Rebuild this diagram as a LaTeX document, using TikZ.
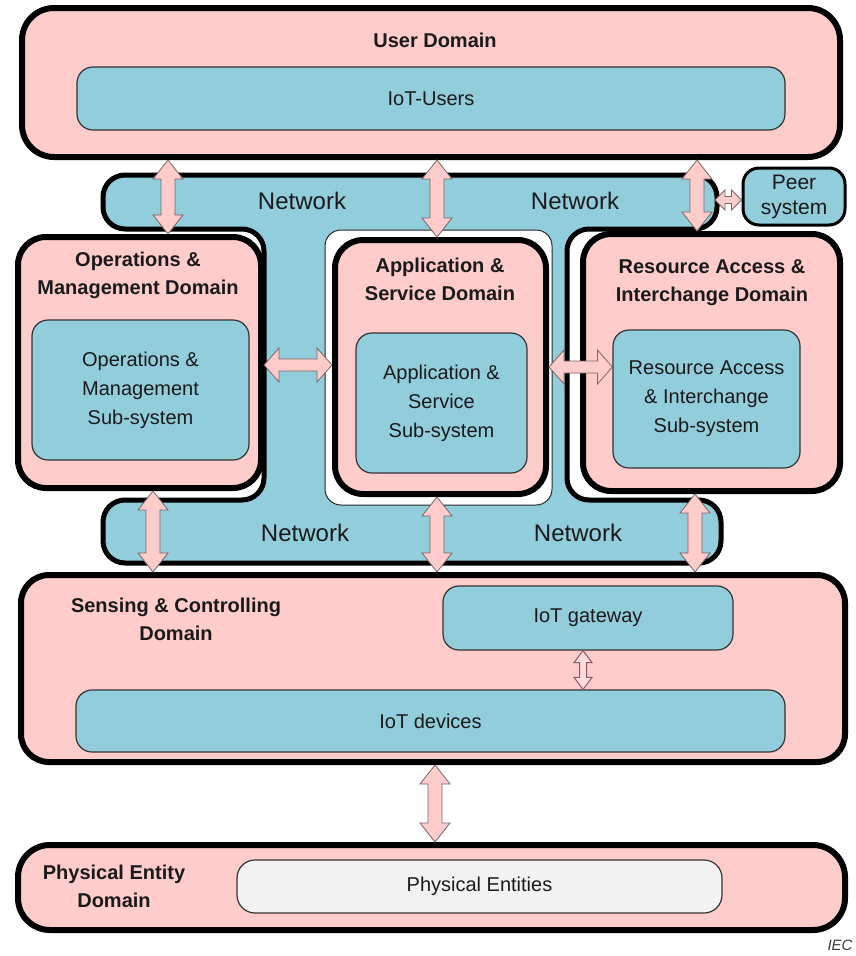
\documentclass[tikz,border=0pt]{standalone}
\usepackage{fontspec}
\setmainfont{Liberation Sans}
\usetikzlibrary{calc}

\definecolor{dpink}{HTML}{FFCCCC}
\definecolor{dblue}{HTML}{92CDDC}
\definecolor{dgrey}{HTML}{F2F2F2}
\definecolor{ink}{HTML}{1A1A1A}
\definecolor{arrowedge}{HTML}{7A6464}
\definecolor{gwedge}{HTML}{8A5A5A}

\tikzset{
  dombox/.style={draw=black, line width=6pt, fill=dpink, rounded corners=28pt, inner sep=0pt},
  subbox/.style={draw=black!80, line width=1.2pt, fill=dblue, rounded corners=16pt,
                 inner sep=0pt, text=ink, align=center, font=\fontsize{20}{29}\selectfont},
  entbox/.style={subbox, fill=dgrey},
  peerbox/.style={subbox, line width=3pt, draw=black, font=\fontsize{21}{25}\selectfont},
  cutbox/.style={draw=black!85, line width=1pt, fill=white, rounded corners=16pt, inner sep=0pt},
  netshape/.style={draw=black, line width=5pt, fill=dblue, rounded corners=22pt},
  domtitle/.style={font=\bfseries\fontsize{20}{28}\selectfont, text=ink, align=center, inner sep=0pt},
  netlabel/.style={font=\fontsize{24}{28}\selectfont, text=ink, inner sep=0pt},
  bigarrow/.style={draw=arrowedge, line width=0.8pt, fill=dpink, line join=miter},
  gwarrow/.style={draw=gwedge, line width=1pt, fill=dpink!70, line join=miter},
}

% vertical double block arrow: x, upper node anchor, lower node anchor, half head, half shaft, head length, style
\newcommand\blkV[7]{%
  \draw[#7] let \p1=(#2), \p2=(#3) in
    ({#1pt},\y1) -- ({#1pt+#4pt},{\y1-#6pt}) -- ({#1pt+#5pt},{\y1-#6pt})
    -- ({#1pt+#5pt},{\y2+#6pt}) -- ({#1pt+#4pt},{\y2+#6pt}) -- ({#1pt},\y2)
    -- ({#1pt-#4pt},{\y2+#6pt}) -- ({#1pt-#5pt},{\y2+#6pt})
    -- ({#1pt-#5pt},{\y1-#6pt}) -- ({#1pt-#4pt},{\y1-#6pt}) -- cycle;}
% horizontal double block arrow: y, left node anchor, right node anchor, half head, half shaft, head length, style
\newcommand\blkH[7]{%
  \draw[#7] let \p1=(#2), \p2=(#3) in
    (\x1,{-#1pt}) -- ({\x1+#6pt},{-#1pt+#4pt}) -- ({\x1+#6pt},{-#1pt+#5pt})
    -- ({\x2-#6pt},{-#1pt+#5pt}) -- ({\x2-#6pt},{-#1pt+#4pt}) -- (\x2,{-#1pt})
    -- ({\x2-#6pt},{-#1pt-#4pt}) -- ({\x2-#6pt},{-#1pt-#5pt})
    -- ({\x1+#6pt},{-#1pt-#5pt}) -- ({\x1+#6pt},{-#1pt-#4pt}) -- cycle;}

\begin{document}
\begin{tikzpicture}[x=1pt,y=-1pt]
  \useasboundingbox (0,0) rectangle (856,956);
  \fill[white] (0,0) rectangle (856,956);

  % network shape
  \draw[netshape] (103,175) -- (717,175) -- (717,229) -- (567,229) -- (567,500)
    -- (721,500) -- (721,563) -- (103,563) -- (103,500) -- (264,500)
    -- (264,229) -- (103,229) -- cycle;
  \node[netlabel] (net1) at (302,201) {Network};
  \node[netlabel] (net2) at (575,201) {Network};
  \node[netlabel] (net3) at (305,533) {Network};
  \node[netlabel] (net4) at (578,533) {Network};
  \coordinate (netR) at (715,200);

  % white frame around the application domain
  \node[cutbox, minimum width=227pt, minimum height=275pt] (appcut) at (438.5,367.5) {};

  % user domain
  \node[dombox, minimum width=818pt, minimum height=149pt, rounded corners=32pt] (user) at (431,82.5) {};
  \node[domtitle] (usert) at (435,40) {User Domain};
  \node[subbox, minimum width=708pt, minimum height=63pt] (iotusers) at (431,98.5) {IoT-Users};

  % peer system
  \node[peerbox, minimum width=102pt, minimum height=57pt] (peer) at (794,196.5) {Peer\\system};

  % operations & management domain
  \node[dombox, minimum width=243pt, minimum height=251pt] (om) at (139.5,362.5) {};
  \node[domtitle] (omt) at (138,275) {Operations \&\\Management Domain};
  \node[subbox, minimum width=217pt, minimum height=140pt] (omsub) at (140.5,390)
    {Operations \&\\Management\\Sub-system};

  % application & service domain
  \node[dombox, minimum width=211pt, minimum height=254pt] (app) at (440.5,367) {};
  \node[domtitle] (appt) at (440,279) {Application \&\\Service Domain};
  \node[subbox, minimum width=171pt, minimum height=140pt] (appsub) at (441.5,403)
    {Application \&\\Service\\Sub-system};

  % resource access & interchange domain
  \node[dombox, minimum width=257pt, minimum height=257pt] (res) at (711.5,362.5) {};
  \node[domtitle] (rest) at (712,283) {Resource Access \&\\Interchange Domain};
  \node[subbox, minimum width=187pt, minimum height=138pt] (ressub) at (706.5,399)
    {Resource Access\\\& Interchange\\Sub-system};

  % sensing & controlling domain
  \node[dombox, minimum width=824pt, minimum height=187pt] (sense) at (433,668.5) {};
  \node[domtitle] (senset) at (176,619) {Sensing \& Controlling\\Domain};
  \node[subbox, minimum width=290pt, minimum height=64pt] (gateway) at (588,618) {IoT gateway};
  \node[subbox, minimum width=709pt, minimum height=62pt] (devices) at (430.5,721) {IoT devices};

  % physical entity domain
  \node[dombox, minimum width=827pt, minimum height=85pt, rounded corners=32pt] (phys) at (431.5,887.5) {};
  \node[domtitle] (physt) at (114,886) {Physical Entity\\Domain};
  \node[entbox, minimum width=485pt, minimum height=53pt, rounded corners=18pt] (entities) at (479.5,886.5) {Physical Entities};

  \node[font=\itshape\fontsize{15}{17}\selectfont, text=ink!85, inner sep=0pt] (iec) at (840,945) {IEC};

  % arrows
  \blkV{168}{user.south}{om.north}{15}{7}{19}{bigarrow}
  \blkV{437}{user.south}{app.north}{15}{7}{19}{bigarrow}
  \blkV{697}{user.south}{res.north}{15}{7}{19}{bigarrow}
  \blkV{153}{om.south}{sense.north}{15}{7}{19}{bigarrow}
  \blkV{437}{app.south}{sense.north}{15}{7}{19}{bigarrow}
  \blkV{695}{res.south}{sense.north}{15}{7}{19}{bigarrow}
  \blkV{435}{sense.south}{phys.north}{15}{7}{19}{bigarrow}
  \blkV{583}{gateway.south}{devices.north}{9}{3.5}{12}{gwarrow}
  \blkH{365}{om.east}{app.west}{17}{6}{15}{bigarrow}
  \blkH{367}{app.east}{ressub.west}{17}{6}{15}{bigarrow}
  \blkH{200}{netR}{peer.west}{10}{3.5}{10}{bigarrow}
\end{tikzpicture}
\end{document}
